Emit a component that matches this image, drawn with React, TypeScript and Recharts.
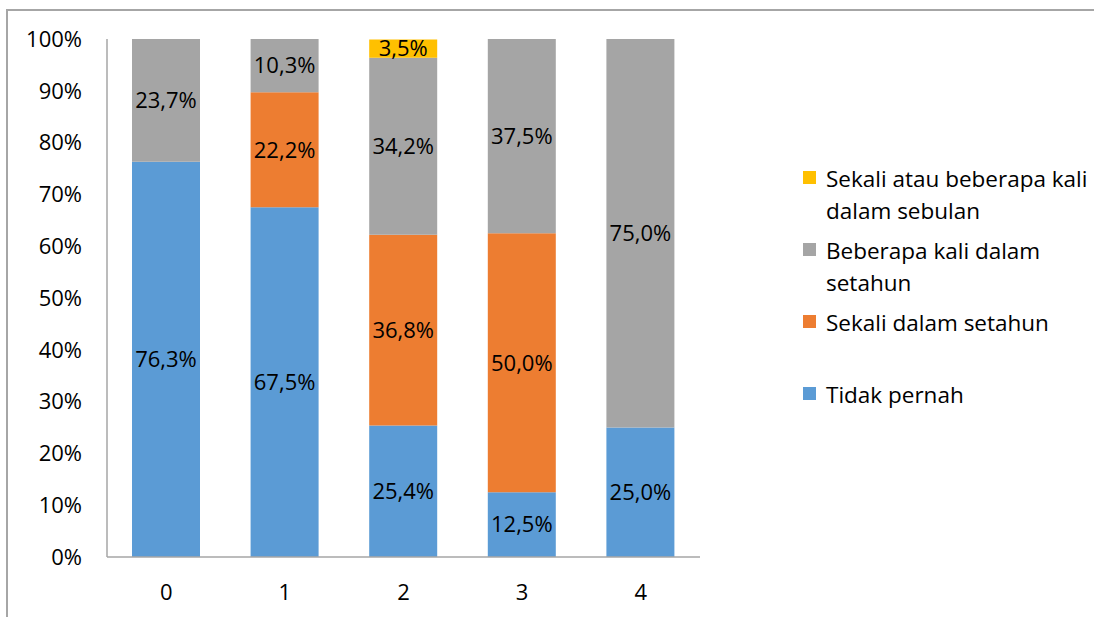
import { Bar, BarChart, LabelList, Legend, XAxis, YAxis } from "recharts";

const CATEGORIES = ["0", "1", "2", "3", "4"];
const TIDAK_PERNAH = [76.3, 67.5, 25.4, 12.5, 25.0];
const SEKALI_SETAHUN = [0, 22.2, 36.8, 50.0, 0];
const BEBERAPA_SETAHUN = [23.7, 10.3, 34.2, 37.5, 75.0];
const SEKALI_SEBULAN = [0, 0, 3.5, 0, 0];
const Y_TICKS = [0, 10, 20, 30, 40, 50, 60, 70, 80, 90, 100];

const SERIES = [
  { key: "tidak", name: "Tidak pernah", color: "#5B9BD5", values: TIDAK_PERNAH },
  { key: "sekaliTahun", name: "Sekali dalam setahun", color: "#ED7D31", values: SEKALI_SETAHUN },
  { key: "beberapaTahun", name: "Beberapa kali dalam setahun", color: "#A5A5A5", values: BEBERAPA_SETAHUN },
  { key: "sekaliBulan", name: "Sekali atau beberapa kali dalam sebulan", color: "#FFC000", values: SEKALI_SEBULAN },
];

const FONT = "'Open Sans', 'Noto Sans', sans-serif";
const AXIS_GRAY = "#A6A6A6";

const rows = CATEGORIES.map((cat, i) => {
  const row: Record<string, number | string> = { cat };
  SERIES.forEach((s) => {
    row[s.key] = s.values[i];
  });
  return row;
});

// koma desimal, sembunyikan segmen kosong
const fmtPct = (v: unknown) => {
  const n = Number(v);
  if (!n) return "";
  return `${n.toFixed(1).replace(".", ",")}%`;
};

// urutan legenda: seri teratas dulu
function LegendBox({ payload }: { payload?: any[] }) {
  const byKey = new Map((payload ?? []).map((p) => [p.dataKey, p]));
  const items = [...SERIES].reverse().map((s) => byKey.get(s.key) ?? { value: s.name, color: s.color });
  return (
    <ul style={{ listStyle: "none", margin: 0, padding: 0, fontFamily: FONT, fontSize: 22.5, color: "#000" }}>
      {items.map((it: any) => (
        <li key={it.value} style={{ display: "flex", height: 72, alignItems: "flex-start" }}>
          <span
            style={{
              display: "inline-block",
              width: 13,
              height: 13,
              marginTop: 7,
              marginLeft: 5,
              marginRight: 10,
              background: it.color,
              flex: "none",
            }}
          />
          <span style={{ lineHeight: "32px", marginTop: -1, width: 272 }}>{it.value}</span>
        </li>
      ))}
    </ul>
  );
}

export default function App() {
  return (
    <div style={{ position: "absolute", left: 0, top: 0, width: 1094, height: 617, overflow: "hidden", background: "#fff" }}>
      <div
        style={{
          position: "absolute",
          left: 6,
          top: 9,
          width: 1200,
          height: 700,
          borderTop: `2px solid ${AXIS_GRAY}`,
          borderLeft: `2px solid ${AXIS_GRAY}`,
        }}
      />
      <BarChart
        width={1094}
        height={617}
        data={rows}
        margin={{ top: 39, right: 394, bottom: 0, left: 0 }}
        barSize={68}
        style={{ position: "absolute", left: 0, top: 0 }}
      >
        <YAxis
          width={107}
          domain={[0, 100]}
          ticks={Y_TICKS}
          interval={0}
          allowDataOverflow
          tickFormatter={(v: number) => `${v}%`}
          axisLine={{ stroke: AXIS_GRAY, strokeWidth: 1.5 }}
          tickLine={false}
          tickSize={0}
          tickMargin={25}
          tick={{ fill: "#000", fontSize: 22, fontFamily: FONT }}
        />
        <XAxis
          dataKey="cat"
          height={60}
          axisLine={{ stroke: AXIS_GRAY, strokeWidth: 1.5 }}
          tickLine={false}
          tickSize={0}
          tickMargin={27}
          tick={{ fill: "#000", fontSize: 22, fontFamily: FONT }}
        />
        <Legend
          layout="vertical"
          align="center"
          verticalAlign="middle"
          wrapperStyle={{ left: 798, top: 164, width: 296 }}
          content={(props: any) => <LegendBox payload={props.payload} />}
        />
        {SERIES.map((s) => (
          <Bar key={s.key} dataKey={s.key} name={s.name} stackId="a" fill={s.color} isAnimationActive={false}>
            <LabelList
              dataKey={s.key}
              position="center"
              formatter={fmtPct}
              fill="#000"
              fontSize={22}
              fontFamily={FONT}
            />
          </Bar>
        ))}
      </BarChart>
    </div>
  );
}
